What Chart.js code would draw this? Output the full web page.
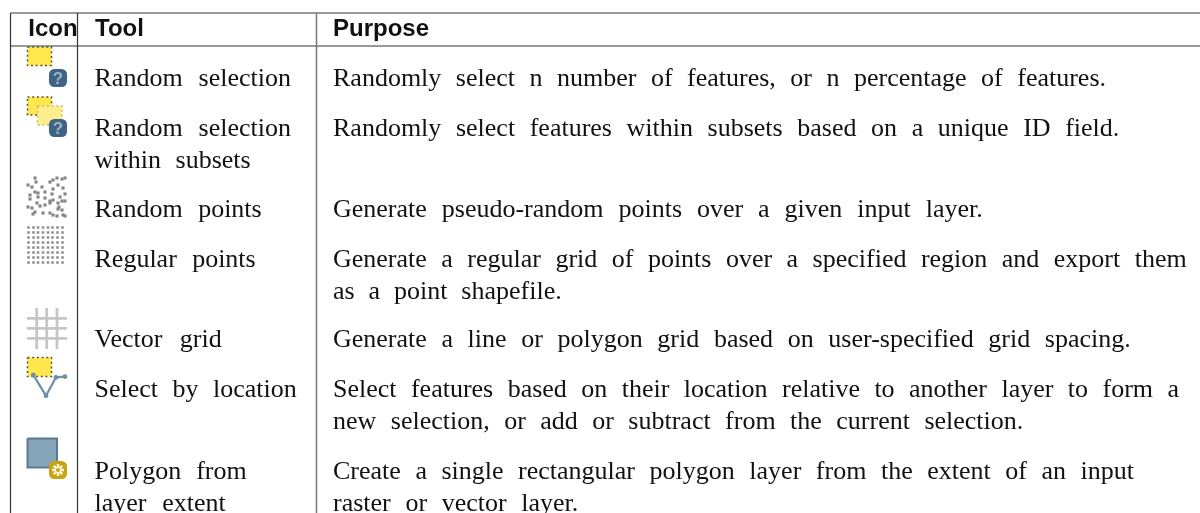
<!DOCTYPE html>
<html>
<head>
<meta charset="utf-8">
<style>
  html, body { margin: 0; padding: 0; background: #fff; }
  #table { display: block; filter: blur(0.35px); }
</style>
</head>
<body>
<canvas id="table" width="1200" height="513"></canvas>
<script src="https://cdn.jsdelivr.net/npm/chart.js@4"></script>
<script>
// header row
const headers = ['Icon', 'Tool', 'Purpose'];
const headerLeft = [28.3, 95, 333];
const headerBaseline = 36;

// Tool column, one entry per printed line
const toolLines = ['Random selection', 'Random selection', 'within subsets', 'Random points',
    'Regular points', 'Vector grid', 'Select by location', 'Polygon from', 'layer extent'];
const toolBaselines = [86, 136, 168, 217, 267, 347, 397, 479, 511];
const toolEnds = [291, 291, 250.7, 261.7, 255.7, 221.7, 296.7, 246.7, 225.7];
const toolLeft = 94.5;

// Purpose column
const purposeLines = [
    'Randomly select n number of features, or n percentage of features.',
    'Randomly select features within subsets based on a unique ID field.',
    'Generate pseudo-random points over a given input layer.',
    'Generate a regular grid of points over a specified region and export them',
    'as a point shapefile.',
    'Generate a line or polygon grid based on user-specified grid spacing.',
    'Select features based on their location relative to another layer to form a',
    'new selection, or add or subtract from the current selection.',
    'Create a single rectangular polygon layer from the extent of an input',
    'raster or vector layer.'
];
const purposeBaselines = [86, 136, 217, 267, 299, 347, 397, 429, 479, 511];
const purposeEnds = [1106, 1119.3, 982.7, 1186.7, 561.7, 1130.7, 1179, 1023.3, 1134, 578.3];
const purposeLeft = 333;

// table rules
const ruleRows = [13, 46];
const ruleColumns = [10.5, 77.5, 316.5];

// icon: random points
const randomX = [35, 36, 50, 53, 57, 62, 65, 28, 32, 42, 58, 53, 63, 35, 38, 45, 52, 65, 30, 30, 38, 45, 60,
    50, 53, 62, 65, 37, 40, 45, 50, 58, 59, 28, 32, 35, 33, 43, 50, 53, 58, 62, 57, 63, 65];
const randomY = [178, 182, 182, 180, 178, 179, 178, 185, 187, 187, 185, 189, 188, 192, 193, 192, 194, 194,
    195, 199, 197, 198, 197, 201, 200, 201, 201, 203, 206, 205, 203, 203, 207, 207, 208, 212, 214, 213, 213,
    215, 209, 210, 216, 215, 216];

// icon: regular points
const regularX = [28.5, 33.5, 38, 43, 48, 52.5, 57.5, 62.5];
const regularY = [227.5, 232.5, 237.5, 242.5, 247.5, 252.5, 257.5, 262.5];

// icon: vector grid
const gridX = [36.7, 46.7, 57];
const gridY = [318.3, 328.3, 338.3];
const gridXRange = [27, 67];
const gridYRange = [308, 349];

// icon: boxes, as [left, right, top, bottom]
const selectBoxA = [27.5, 51.5, 47, 65.5];
const subsetBoxA = [27.5, 51.5, 97, 115];
const subsetBoxB = [37.5, 62, 106, 125];
const locationBox = [27.5, 51.5, 357.5, 376.5];
const polygonBox = [27.5, 57, 438.5, 467.5];

// icon: location line
const locationX = [33.3, 46, 56, 65];
const locationY = [375, 395.7, 377.3, 376.7];

// icon: badges
const questionX = [58, 58];
const questionY = [78, 128];
const gearX = [58];
const gearY = [470];

const datasets = [];

function add(ds) {
    // later entries paint over earlier ones
    ds.order = -datasets.length;
    datasets.push(ds);
}

function rule(xs, ys, color, width) {
    add({
        data: xs.map((x, i) => ({ x: x, y: ys[i] })),
        showLine: true, pointRadius: 0, borderColor: color, borderWidth: width
    });
}

function box(b, fillColor, lineColor, width, dash) {
    add({
        data: [[b[0], b[2]], [b[1], b[2]], [b[1], b[3]], [b[0], b[3]], [b[0], b[2]]].map(p => ({ x: p[0], y: p[1] })),
        showLine: true, fill: 'shape', backgroundColor: fillColor, borderColor: lineColor,
        borderWidth: width, borderDash: dash, pointRadius: 0
    });
}

function points(xs, ys, style, radius, color, extra) {
    add(Object.assign({
        data: xs.map((x, i) => ({ x: x, y: ys[i] })),
        pointStyle: style, pointRadius: radius, backgroundColor: color, borderColor: color, borderWidth: 0
    }, extra || {}));
}

ruleRows.forEach(y => rule([ruleColumns[0], 1200], [y, y], '#777777', 1.5));
rule([ruleColumns[0], ruleColumns[0]], [ruleRows[0], 513], '#333333', 1.2);
rule([ruleColumns[1], ruleColumns[1]], [ruleRows[0], 513], '#333333', 1.2);
rule([ruleColumns[2], ruleColumns[2]], [ruleRows[0], 513], '#777777', 1.5);

const dotted = [2, 2.7];
box(selectBoxA, '#ffe84d', '#55553f', 1.5, dotted);
points(questionX.slice(0, 1), questionY.slice(0, 1), 'rectRounded', 10.5, '#3d6484');

box(subsetBoxA, '#ffe84d', '#55553f', 1.5, dotted);
box(subsetBoxB, '#ffee8c', '#c9b860', 1.5, dotted);
points(questionX.slice(1), questionY.slice(1), 'rectRounded', 10.5, '#3d6484');

points(randomX, randomY, 'rect', 2.2, '#858585');

regularY.forEach(y => points(regularX, regularX.map(() => y), 'rect', 1.8, '#8f8f8f'));

gridX.forEach(x => rule([x, x], gridYRange, '#c6c6c6', 2.8));
gridY.forEach(y => rule(gridXRange, [y, y], '#c6c6c6', 2.8));

box(locationBox, '#ffe84d', '#55553f', 1.5, dotted);
add({
    data: locationX.map((x, i) => ({ x: x, y: locationY[i] })),
    showLine: true, borderColor: '#6d90a8', borderWidth: 2.2,
    pointRadius: 2.4, pointBackgroundColor: '#6d90a8', pointBorderWidth: 0
});

box(polygonBox, '#86a5b9', '#5a7a92', 2, []);
points(gearX, gearY, 'rectRounded', 10.5, '#c8a412');
points(gearX, gearY, 'star', 6, '#fff6d8', { borderWidth: 2.4 });
points(gearX, gearY, 'circle', 2, '#c8a412');

// table text goes through the same scales as the marks
const tableText = {
    id: 'tableText',
    afterDatasetsDraw(chart) {
        const ctx = chart.ctx;
        const xs = chart.scales.x;
        const ys = chart.scales.y;

        function line(text, left, baseline, end) {
            ctx.wordSpacing = '0px';
            const spaces = text.split(' ').length - 1;
            if (end && spaces > 0) {
                const extra = (xs.getPixelForValue(end) - xs.getPixelForValue(left) - ctx.measureText(text).width) / spaces;
                ctx.wordSpacing = extra + 'px';
            }
            ctx.fillText(text, xs.getPixelForValue(left), ys.getPixelForValue(baseline));
        }

        ctx.save();
        ctx.textBaseline = 'alphabetic';
        ctx.textAlign = 'left';
        ctx.fillStyle = '#111111';

        ctx.font = 'bold 24px "Liberation Sans"';
        headers.forEach((h, i) => line(h, headerLeft[i], headerBaseline));

        ctx.font = '26px "Liberation Serif"';
        toolLines.forEach((t, i) => line(t, toolLeft, toolBaselines[i], toolEnds[i]));
        purposeLines.forEach((t, i) => line(t, purposeLeft, purposeBaselines[i], purposeEnds[i]));

        // question marks on the two badges
        ctx.wordSpacing = '0px';
        ctx.font = 'bold 17px "Liberation Sans"';
        ctx.fillStyle = '#9fb3c3';
        ctx.textAlign = 'center';
        questionX.forEach((x, i) => ctx.fillText('?', xs.getPixelForValue(x), ys.getPixelForValue(questionY[i] + 6)));
        ctx.restore();
    }
};

new Chart(document.getElementById('table').getContext('2d'), {
    type: 'scatter',
    data: { datasets: datasets },
    plugins: [tableText],
    options: {
        responsive: false,
        animation: false,
        layout: { padding: 0, autoPadding: false },
        scales: {
            x: { type: 'linear', min: 0, max: 1200, display: false },
            y: { type: 'linear', min: 0, max: 513, reverse: true, display: false }
        },
        plugins: {
            legend: { display: false },
            tooltip: { enabled: false }
        }
    }
});
</script>
</body>
</html>
